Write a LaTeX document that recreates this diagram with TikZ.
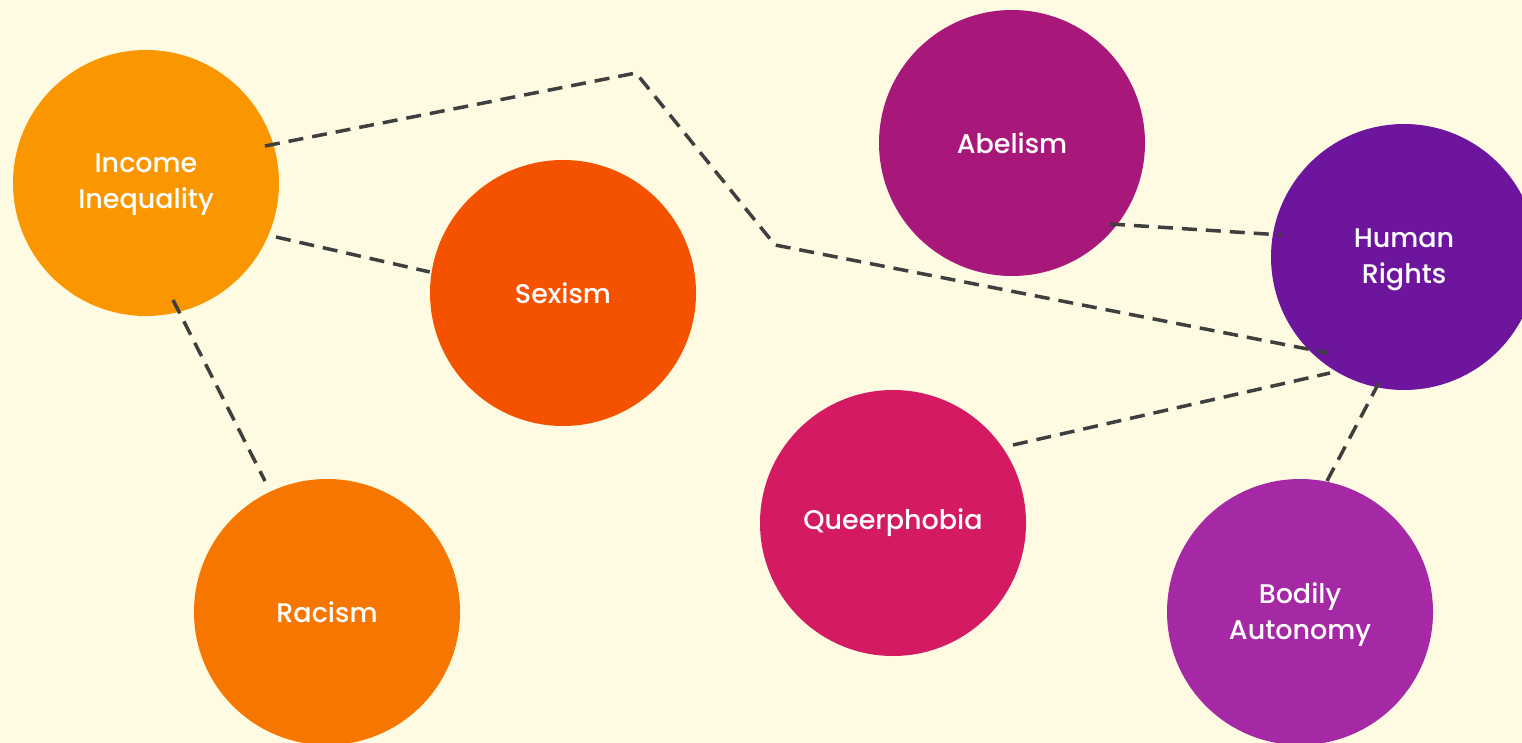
\documentclass[tikz,border=0pt]{standalone}
\usepackage{fontspec}
\setmainfont{Poppins}[BoldFont={Poppins Medium}]
\definecolor{bg}{HTML}{FFFBE3}
\definecolor{cIncome}{HTML}{FA9600}
\definecolor{cSexism}{HTML}{F55200}
\definecolor{cRacism}{HTML}{F77600}
\definecolor{cAbelism}{HTML}{A8177A}
\definecolor{cHuman}{HTML}{6E159E}
\definecolor{cQueer}{HTML}{D41A62}
\definecolor{cBodily}{HTML}{A529A5}
\definecolor{lineclr}{HTML}{3F3F3F}
\begin{document}
\begin{tikzpicture}[x=1pt,y=-1pt,
  bubble/.style={circle,minimum size=266pt,inner sep=0pt},
  txt/.style={text=white,align=center,inner sep=0pt,
    font=\bfseries\fontsize{27}{36}\selectfont},
  link/.style={draw=lineclr,line width=3.5pt,dash pattern=on 15pt off 9pt}]
\fill[bg] (0,0) rectangle (1522,743);
\useasboundingbox (0,0) rectangle (1522,743);
\begin{scope}
\clip (0,0) rectangle (1522,743);
\node[bubble,fill=cIncome] (income) at (146,183) {};
\node[bubble,fill=cSexism] (sexism) at (563,293) {};
\node[bubble,fill=cRacism] (racism) at (327,612) {};
\node[bubble,fill=cAbelism] (abelism) at (1012,143) {};
\node[bubble,fill=cHuman] (human) at (1404,257) {};
\node[bubble,fill=cQueer] (queer) at (893,523) {};
\node[bubble,fill=cBodily] (bodily) at (1300,612) {};
\end{scope}
\node[txt] (tincome) at ([yshift=-2pt]income.center) {Income\\Inequality};
\node[txt] (tsexism) at (sexism.center) {Sexism};
\node[txt] (tracism) at (racism.center) {Racism};
\node[txt] (tabelism) at (abelism.center) {Abelism};
\node[txt] (thuman) at ([yshift=-3pt]human.center) {Human\\Rights};
\node[txt] (tqueer) at (queer.center) {Queerphobia};
\node[txt] (tbodily) at ([yshift=-3pt]bodily.center) {Bodily\\Autonomy};
\coordinate (b1) at (636,73);
\coordinate (b2) at (775,245);
\draw[link] ([shift={(119,-37)}]income.center) -- (b1) -- (b2) -- ([shift={(-76,96)}]human.center);
\draw[link] ([shift={(130,54)}]income.center) -- (sexism.west |- 0,272);
\draw[link] ([shift={(27,117)}]income.center) -- ([shift={(-62,-131)}]racism.center);
\draw[link] ([shift={(98,81)}]abelism.center) -- ([shift={(-122,-22)}]human.center);
\draw[link] ([shift={(120,-78)}]queer.center) -- ([shift={(-74,116)}]human.center);
\draw[link] ([shift={(27,-131)}]bodily.center) -- ([shift={(-21,118)}]human.center);
\end{tikzpicture}
\end{document}
